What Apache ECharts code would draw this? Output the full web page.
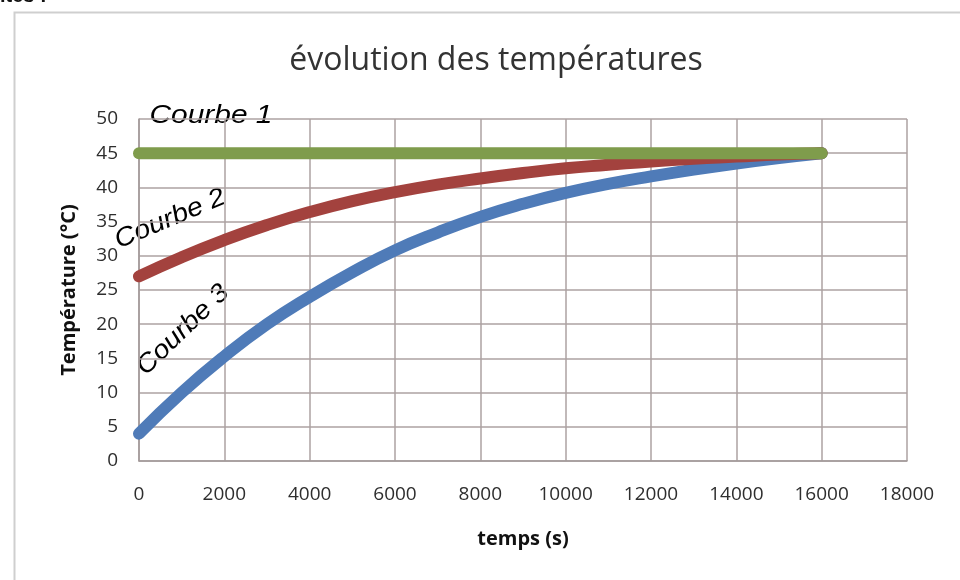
<!DOCTYPE html>
<html>
<head>
<meta charset="utf-8">
<script src="https://cdn.jsdelivr.net/npm/echarts@6/dist/echarts.min.js"></script>
<style>
  html, body { margin: 0; padding: 0; background: #fff; }
  #chart { width: 960px; height: 580px; }
</style>
</head>
<body>
<div id="chart"></div>
<script>
// temps (s)
const temps = [0, 1000, 2000, 3000, 4000, 5000, 6000, 7000, 8000, 9000, 10000, 11000, 12000, 13000, 14000, 15000, 16000];
// température (°C)
const courbe1 = [45, 45, 45, 45, 45, 45, 45, 45, 45, 45, 45, 45, 45, 45, 45, 45, 45];
const courbe2 = [27, 29.8, 32.3, 34.5, 36.4, 38.0, 39.3, 40.4, 41.3, 42.1, 42.8, 43.3, 43.8, 44.2, 44.5, 44.8, 45];
const courbe3 = [4, 10, 15.3, 20, 24, 27.6, 30.8, 33.4, 35.7, 37.6, 39.2, 40.5, 41.6, 42.6, 43.5, 44.3, 45];

const xTicks = [0, 18000, 2000];
const yTicks = [0, 50, 5];

const pairs = vals => temps.map((t, i) => [t, vals[i]]);

const chart = echarts.init(document.getElementById('chart'));

const lineOf = (name, vals, color) => ({
  name, type: 'line', data: pairs(vals), smooth: true,
  showSymbol: false, silent: true,
  lineStyle: { color, width: 12, cap: 'round', join: 'round' }
});

const labelFont = { fontFamily: 'Liberation Sans', fontStyle: 'italic', fontSize: 26, fill: '#000' };

chart.setOption({
  animation: false,
  title: {
    text: 'évolution des températures',
    left: 491, top: 40, textAlign: 'center',
    textStyle: { fontFamily: 'Open Sans', fontSize: 32, fontWeight: 'normal', color: '#333' }
  },
  grid: { left: 139, right: 53, top: 119, bottom: 119 },
  xAxis: {
    type: 'value', min: xTicks[0], max: xTicks[1], interval: xTicks[2],
    name: 'temps (s)', nameLocation: 'middle', nameGap: 68,
    nameTextStyle: { fontFamily: 'Open Sans', fontWeight: 'bold', fontSize: 20, color: '#111' },
    axisLine: { lineStyle: { color: '#a39a9a', width: 1.5 } },
    axisTick: { show: false },
    axisLabel: { fontFamily: 'Open Sans', fontSize: 19, color: '#2e2e2e', margin: 24,
      formatter: v => String(v) },
    splitLine: { show: true, lineStyle: { color: '#aca2a2', width: 1.5 } }
  },
  yAxis: {
    type: 'value', min: yTicks[0], max: yTicks[1], interval: yTicks[2],
    name: 'Température (°C)', nameLocation: 'middle', nameGap: 60,
    nameTextStyle: { fontFamily: 'Open Sans', fontWeight: 'bold', fontSize: 20, color: '#111' },
    axisLine: { show: true, lineStyle: { color: '#a39a9a', width: 1.5 } },
    axisTick: { show: false },
    axisLabel: { fontFamily: 'Open Sans', fontSize: 19, color: '#2e2e2e', margin: 21 },
    splitLine: { show: true, lineStyle: { color: '#aca2a2', width: 1.5 } }
  },
  series: [
    lineOf('Courbe 3', courbe3, '#4f7bb8'),
    lineOf('Courbe 2', courbe2, '#a3423e'),
    lineOf('Courbe 1', courbe1, '#7f9c4c')
  ],
  graphic: [
    { type: 'rect', left: 12, top: 10, shape: { width: 1000, height: 620 },
      style: { fill: 'none', stroke: '#cfcfcf', lineWidth: 2 }, z: -1 },
    { type: 'text', left: 0, top: -14,
      style: { text: 'ites :', fontFamily: 'Liberation Sans', fontWeight: 'bold', fontSize: 20, fill: '#111' } },
    { type: 'text', x: 211, y: 116, scaleX: 1.15,
      style: Object.assign({ text: 'Courbe 1', align: 'center', verticalAlign: 'middle' }, labelFont) },
    { type: 'text', x: 170, y: 219, rotation: 0.40, scaleX: 1.1,
      style: Object.assign({ text: 'Courbe 2', align: 'center', verticalAlign: 'middle' }, labelFont) },
    { type: 'text', x: 183, y: 330, rotation: 0.77, scaleX: 1.1,
      style: Object.assign({ text: 'Courbe 3', align: 'center', verticalAlign: 'middle' }, labelFont) }
  ]
});
</script>
</body>
</html>
